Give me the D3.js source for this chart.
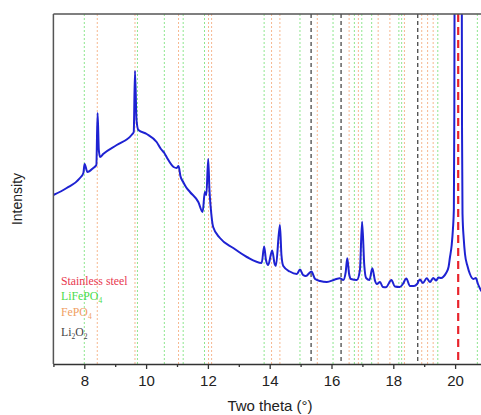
<!DOCTYPE html>
<html>
<head>
<meta charset="utf-8">
<script src="https://cdn.jsdelivr.net/npm/d3@7"></script>
<style>
  body { margin: 0; background: #fff; }
  svg { display: block; }
</style>
</head>
<body>
<svg id="chart" width="481" height="415"></svg>
<script>
// Measured XRD pattern: two theta (degrees) and intensity (arbitrary units)
const twoTheta = [
  7.00, 7.43, 7.86, 7.97, 8.01, 8.10, 8.29, 8.39, 8.43, 8.47, 8.51, 8.61,
  9.05, 9.53, 9.60, 9.64, 9.69, 9.75, 10.02, 10.34, 10.48, 10.59, 10.68,
  10.89, 10.99, 11.05, 11.11, 11.20, 11.29, 11.42, 11.69, 11.83, 11.90,
  11.95, 12.01, 12.05, 12.09, 12.17, 12.39, 12.82, 13.26, 13.74, 13.82,
  13.88, 13.95, 14.08, 14.16, 14.20, 14.33, 14.38, 14.44, 14.65, 14.88,
  14.98, 15.08, 15.17, 15.35, 15.47, 15.63, 15.85, 16.11, 16.27, 16.38,
  16.46, 16.51, 16.57, 16.63, 16.82, 16.92, 16.99, 17.06, 17.12, 17.23,
  17.32, 17.41, 17.47, 17.57, 17.66, 17.76, 17.94, 18.05, 18.21, 18.31,
  18.42, 18.54, 18.67, 18.77, 18.86, 18.96, 19.08, 19.19, 19.29, 19.39,
  19.46, 19.55, 19.62, 19.71, 19.79, 19.83, 19.89, 19.93, 19.96, 19.975,
  19.985, 20.10, 20.215, 20.225, 20.24, 20.28, 20.32, 20.40, 20.48, 20.59,
  20.67, 20.74, 20.83, 21.00
];
const intensity = [
  169, 176, 186, 191, 200, 192, 196, 199, 251, 214, 207, 210,
  219, 229, 232, 293, 244, 234, 230, 222, 215, 211, 206,
  197, 196, 198, 188, 182, 177, 172, 162, 152, 172,
  169, 205, 174, 157, 137, 126, 116, 107, 101, 117.5,
  104, 99, 113.5, 100, 98, 139, 109, 98, 92.5, 90,
  94.5, 89, 88, 92.5, 85, 83, 82, 84.5, 85.7, 84,
  92, 105.7, 90, 85, 84, 94, 142.3, 99, 86, 84,
  95.7, 83, 80, 82, 77, 76.7, 84, 77.5, 77, 80,
  85.5, 78, 78, 80, 84.5, 81, 85.7, 82, 86, 83.5,
  86.5, 86, 87.3, 91, 97.3, 106, 119, 135, 155, 250,
  400, 900, 400, 230, 150, 125, 110, 98, 90, 85,
  86, 80, 74, 69
];

// Reference peak positions (two theta, degrees)
const steelPeaks = [20.1];
const lifepo4Peaks = [8.0, 9.72, 10.59, 11.2, 11.89, 13.82, 14.98, 16.05, 16.74,
  16.98, 17.30, 18.18, 18.27, 19.44, 20.72];
const fepo4Peaks = [8.42, 9.64, 11.05, 12.02, 12.12, 14.06, 14.33, 15.54, 16.57,
  16.87, 17.51, 17.89, 18.36, 18.92, 19.11, 19.29];
const li2o2Peaks = [15.34, 16.31, 18.79];

// Axis ticks
const xTicks = [7, 8, 9, 10, 11, 12, 13, 14, 15, 16, 17, 18, 19, 20, 21];
const xTickLabels = ["", "8", "", "10", "", "12", "", "14", "", "16", "", "18", "", "20", ""];

// Legend entries (digits are drawn as subscripts)
const legendNames = ["Stainless steel", "LiFePO4", "FePO4", "Li2O2"];

const svg = d3.select("#chart");
const plotLeft = 53.4, plotTop = 14, plotBottom = 364;
const x = d3.scaleLinear().domain([7, 21]).range([plotLeft, plotLeft + 14 * 30.9]);
const y = d3.scaleLinear().domain([0, 350]).range([plotBottom, plotTop]);

svg.append("defs").append("clipPath").attr("id", "plot")
  .append("rect").attr("x", plotLeft).attr("y", plotTop)
  .attr("width", x(21) - plotLeft).attr("height", plotBottom - plotTop);

const plot = svg.append("g").attr("clip-path", "url(#plot)");

function refLines(vals, color, width, dash) {
  plot.append("g").selectAll("line").data(vals).join("line")
    .attr("x1", d => x(d)).attr("x2", d => x(d))
    .attr("y1", plotTop).attr("y2", plotBottom)
    .attr("stroke", color).attr("stroke-width", width)
    .attr("stroke-dasharray", dash);
}
refLines(lifepo4Peaks, "#8ee68e", 1, "2,2");
refLines(fepo4Peaks, "#f6b890", 1, "2,2");
refLines(li2o2Peaks, "#555", 1.4, "4,3");

// Diffraction pattern
const line = d3.line()
  .x((d, i) => x(twoTheta[i]))
  .y(d => y(d))
  .curve(d3.curveMonotoneX);
plot.append("path").datum(intensity)
  .attr("d", line)
  .attr("fill", "none")
  .attr("stroke", "#1e22d2")
  .attr("stroke-width", 2)
  .attr("stroke-linejoin", "round");

refLines(steelPeaks, "#e8242c", 2.2, "8,5");

// Frame: top border and left axis line
svg.append("line").attr("x1", plotLeft).attr("x2", 481).attr("y1", plotTop).attr("y2", plotTop)
  .attr("stroke", "#555").attr("stroke-width", 1.5);
svg.append("line").attr("x1", plotLeft).attr("x2", plotLeft).attr("y1", plotTop).attr("y2", plotBottom)
  .attr("stroke", "#555").attr("stroke-width", 1.5);

// Bottom axis
const xAxis = d3.axisBottom(x)
  .tickValues(xTicks)
  .tickFormat((d, i) => xTickLabels[i])
  .tickSizeOuter(0);
const gx = svg.append("g").attr("transform", `translate(0,${plotBottom})`).call(xAxis);
gx.select(".domain").attr("stroke", "#333").attr("stroke-width", 1.5);
gx.selectAll(".tick line")
  .attr("stroke", "#333").attr("stroke-width", 1.3)
  .attr("y2", (d, i) => xTickLabels[i] ? 5 : 3);
gx.selectAll(".tick text")
  .attr("y", 11)
  .attr("font-family", "Liberation Sans, Arial, sans-serif")
  .attr("font-size", 15).attr("fill", "#222");

// Axis titles
svg.append("text")
  .attr("x", 270).attr("y", 411)
  .attr("text-anchor", "middle")
  .attr("font-family", "Liberation Sans, Arial, sans-serif")
  .attr("font-size", 15).attr("fill", "#222")
  .text("Two theta (°)");
svg.append("text")
  .attr("transform", "translate(22,199) rotate(-90)")
  .attr("text-anchor", "middle")
  .attr("font-family", "Liberation Sans, Arial, sans-serif")
  .attr("font-size", 14).attr("fill", "#222")
  .text("Intensity");

// Legend (serif labels with chemical subscripts)
const legendColors = ["#e8384f", "#4cdc4c", "#f0a064", "#444"];
const legendY = [285, 300, 316, 336];
const legend = svg.append("g")
  .attr("font-family", "Liberation Serif, Times New Roman, serif")
  .attr("font-size", 11.8);
legendNames.forEach((name, i) => {
  const t = legend.append("text").attr("x", 61).attr("y", legendY[i]).attr("fill", legendColors[i]);
  const parts = name.match(/\d+|\D+/g);
  parts.forEach(p => {
    const isSub = /^\d+$/.test(p);
    t.append("tspan")
      .attr("font-size", isSub ? 7.5 : 11.8)
      .attr("baseline-shift", isSub ? "-3" : null)
      .text(p);
  });
});
</script>
</body>
</html>
